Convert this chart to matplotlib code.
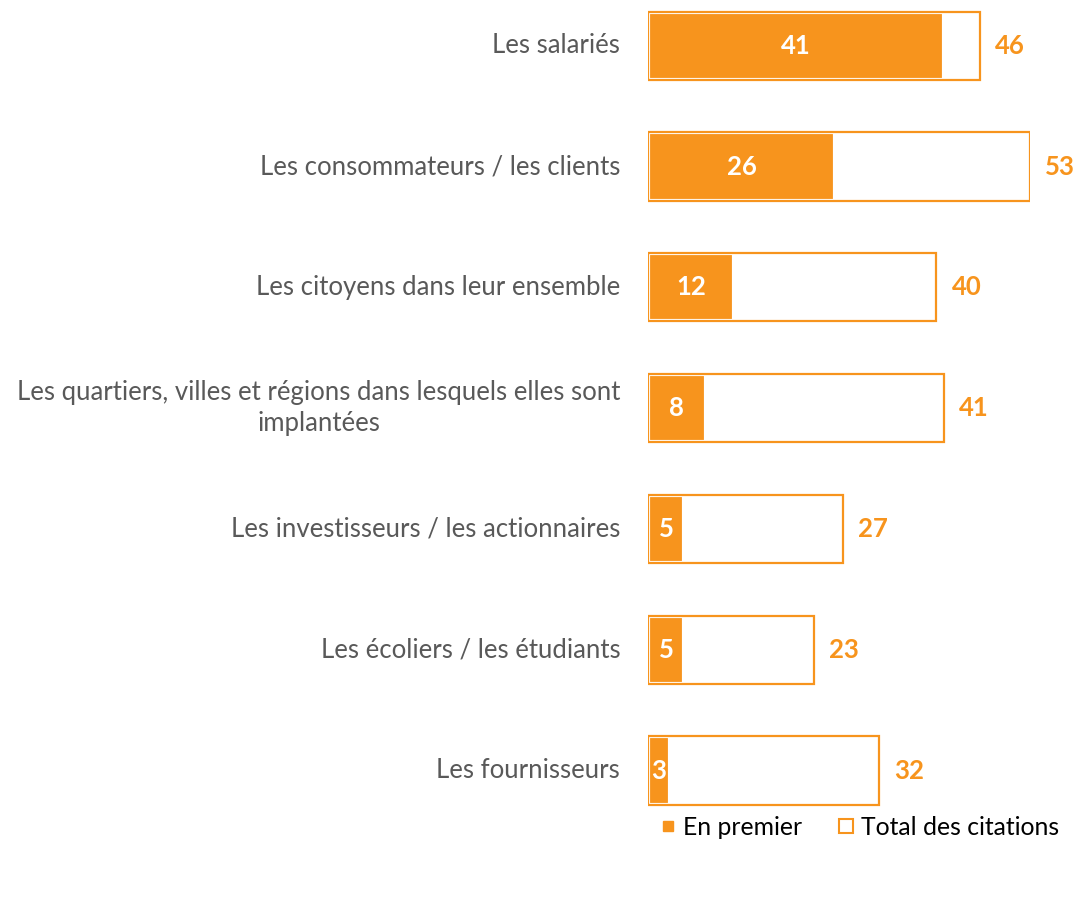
import matplotlib
matplotlib.use("Agg")
import matplotlib.pyplot as plt
from matplotlib.lines import Line2D

plt.rcParams['font.family'] = ['Lato', 'DejaVu Sans']

categories = [
    "Les salariés",
    "Les consommateurs / les clients",
    "Les citoyens dans leur ensemble",
    "Les quartiers, villes et régions dans lesquels elles sont\nimplantées",
    "Les investisseurs / les actionnaires",
    "Les écoliers / les étudiants",
    "Les fournisseurs",
]
en_premier = [41, 26, 12, 8, 5, 5, 3]
total = [46, 53, 40, 41, 27, 23, 32]
legend_labels = ["En premier", "Total des citations"]

ORANGE = "#F7941D"
GREY = "#595959"

W, H = 1079, 922
fig = plt.figure(figsize=(W / 100, H / 100), dpi=100)
x0, x1 = 648, 1030
ax = fig.add_axes([x0 / W, 0, (x1 - x0) / W, 1])
ax.set_xlim(0, 53)
top_c, step = 45.7, 120.8
ax.set_ylim((H - top_c) / step, -top_c / step)
ax.axis("off")

ys = list(range(len(categories)))
bh = 0.565
ax.barh(ys, en_premier, height=bh, color=ORANGE, edgecolor="white", linewidth=3.0, zorder=2)
ax.barh(ys, total, height=bh, facecolor="none", edgecolor=ORANGE, linewidth=1.6, zorder=3)

fs = 18.5
for y, lab, v, t in zip(ys, categories, en_premier, total):
    ax.annotate(lab, xy=(0, y), xytext=(-20, 0), textcoords="offset points",
                ha="right", va="center", multialignment="center",
                fontsize=fs, color=GREY, annotation_clip=False, linespacing=1.32)
    ax.text(v / 2, y, str(v), ha="center", va="center", fontsize=fs,
            color="white", fontweight="bold", zorder=4)
    ax.annotate(str(t), xy=(t, y), xytext=(11, 0), textcoords="offset points",
                ha="left", va="center", fontsize=fs, color=ORANGE,
                fontweight="bold", annotation_clip=False)

handles = [Line2D([], [], linestyle="none", marker="s", markersize=7,
                  markerfacecolor=ORANGE, markeredgecolor=ORANGE),
           Line2D([], [], linestyle="none", marker="s", markersize=10.5,
                  markerfacecolor="white", markeredgecolor=ORANGE, markeredgewidth=1.5)]
fig.legend(handles, legend_labels, loc="center", bbox_to_anchor=(860 / W, 1 - 827 / H),
           ncol=2, frameon=False, fontsize=17.8, handlelength=0.6,
           handletextpad=0.3, columnspacing=1.5, borderaxespad=0, borderpad=0)

fig.savefig("out.png", dpi=100)
